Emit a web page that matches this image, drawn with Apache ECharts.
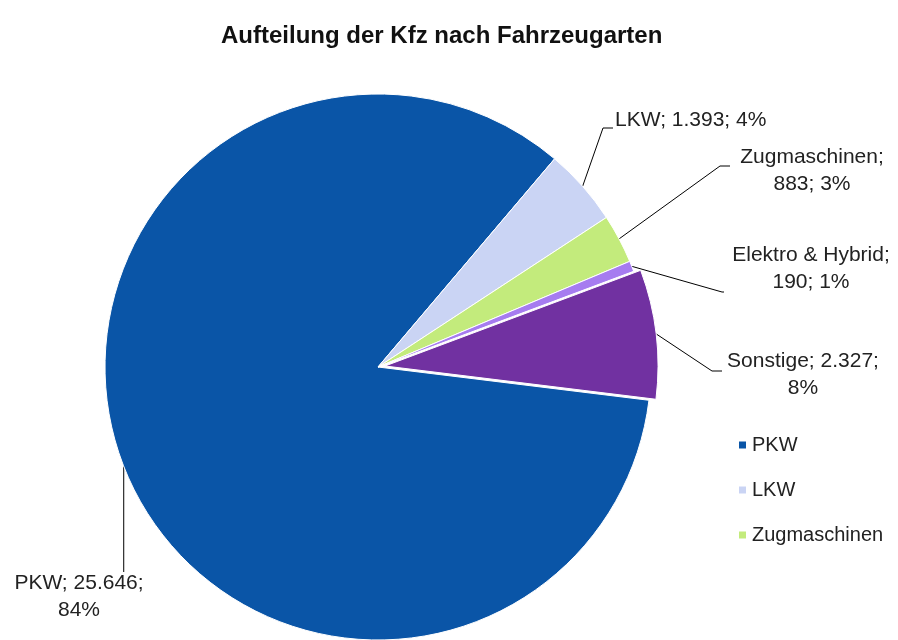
<!DOCTYPE html>
<html>
<head>
<meta charset="utf-8">
<title>Aufteilung der Kfz nach Fahrzeugarten</title>
<script src="https://cdn.jsdelivr.net/npm/echarts@6/dist/echarts.min.js"></script>
<style>
  html, body { margin: 0; padding: 0; background: #fff; }
  #chart { width: 898px; height: 640px; }
</style>
</head>
<body>
<div id="chart"></div>
<script>
// data
const categories = ['PKW', 'LKW', 'Zugmaschinen', 'Elektro & Hybrid', 'Sonstige'];
const values = [25646, 1393, 883, 190, 2327];
const colors = ['#0a55a7', '#cad4f4', '#c3eb7c', '#a67cf0', '#7131a1'];
const legendItems = ['PKW', 'LKW', 'Zugmaschinen'];

// Sonstige is pulled out of the pie a little
const explodedName = 'Sonstige';

// where Excel put each data label: x, y, align, then the leader's elbow and end
const labelSpots = {
  'PKW':              { x: 79,  y: 597, align: 'center', elbow: null,       end: [null, 572] },
  'LKW':              { x: 615, y: 120, align: 'left',   elbow: [603, 128], end: [613, 128] },
  'Zugmaschinen':     { x: 812, y: 171, align: 'center', elbow: [720, 166], end: [730, 166] },
  'Elektro & Hybrid': { x: 811, y: 269, align: 'center', elbow: [722, 292], end: [724, 292] },
  'Sonstige':         { x: 803, y: 375, align: 'center', elbow: [712, 371], end: [722, 371] }
};

const fmtNum = v => String(v).replace(/\B(?=(\d{3})+(?!\d))/g, '.');

const labelText = p => {
  const n = fmtNum(p.value);
  if (p.name === 'LKW') return p.name + '; ' + n + '; ' + p.percent + '%';
  if (p.name === 'PKW' || p.name === 'Sonstige') return p.name + '; ' + n + ';\n' + p.percent + '%';
  return p.name + ';\n' + n + '; ' + p.percent + '%';
};

const placeLabel = p => {
  const s = labelSpots[categories[p.dataIndex]];
  if (!s) return {};
  const out = { x: s.x, y: s.y, align: s.align, verticalAlign: 'middle' };
  const pts = p.labelLinePoints;
  if (pts && pts.length) {
    const a = pts[0];
    if (s.elbow) {
      out.labelLinePoints = [a, s.elbow, s.end];
    } else {
      out.labelLinePoints = [a, [a[0], s.end[1]], [a[0], s.end[1]]];
    }
  }
  return out;
};

const labelStyle = {
  fontFamily: 'Liberation Sans',
  fontSize: 21,
  lineHeight: 27,
  color: '#222',
  formatter: labelText
};
const lineStyle = { show: true, length: 12, length2: 8, lineStyle: { color: '#000', width: 1 } };

const hidden = {
  itemStyle: { color: 'rgba(0,0,0,0)', borderWidth: 0 },
  label: { show: false },
  labelLine: { show: false }
};

const baseSeries = {
  type: 'pie',
  radius: 273,
  startAngle: 353,
  clockwise: true,
  percentPrecision: 0,
  avoidLabelOverlap: false,
  itemStyle: { borderColor: '#fff', borderWidth: 1 },
  label: labelStyle,
  labelLine: lineStyle,
  labelLayout: placeLabel,
  emphasis: { disabled: true },
  silent: true
};

const chart = echarts.init(document.getElementById('chart'));

chart.setOption({
  animation: false,
  title: {
    text: 'Aufteilung der Kfz nach Fahrzeugarten',
    left: 216,
    top: 19,
    textStyle: { fontFamily: 'Liberation Sans', fontSize: 24, fontWeight: 'bold', color: '#111' }
  },
  legend: {
    data: legendItems,
    orient: 'vertical',
    left: 732,
    top: 430,
    icon: 'rect',
    itemWidth: 9,
    itemHeight: 9,
    itemGap: 25,
    selectedMode: false,
    textStyle: { fontFamily: 'Liberation Sans', fontSize: 20, color: '#222' }
  },
  series: [
    Object.assign({}, baseSeries, {
      center: [378, 367],
      data: categories.map((c, i) => Object.assign(
        { name: c, value: values[i], itemStyle: { color: colors[i] } },
        c === explodedName ? hidden : {}
      ))
    }),
    Object.assign({}, baseSeries, {
      center: [385, 366],
      data: categories.map((c, i) => Object.assign(
        { name: c, value: values[i], itemStyle: { color: colors[i] } },
        c === explodedName ? {} : hidden
      ))
    })
  ]
});
</script>
</body>
</html>
